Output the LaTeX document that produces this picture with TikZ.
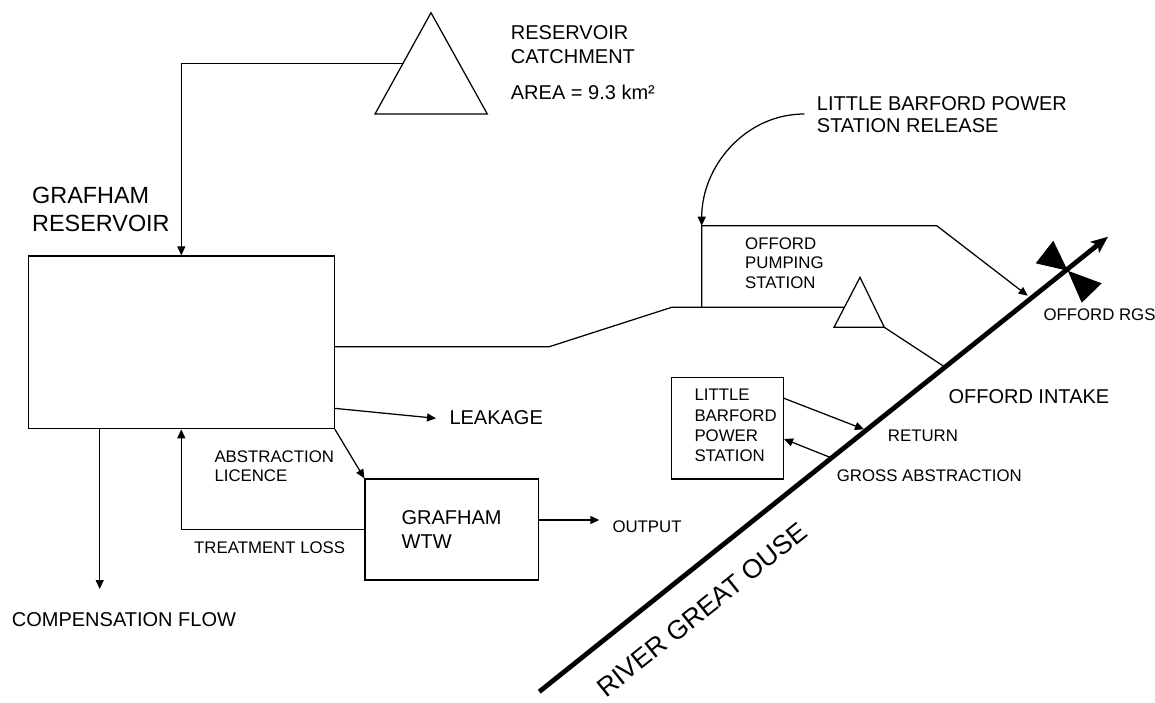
\documentclass[tikz,border=0pt]{standalone}
\usepackage{fontspec}
\setmainfont{Liberation Sans}
\usetikzlibrary{arrows.meta,calc}
\begin{document}
\begin{tikzpicture}[x=1pt,y=-1pt,
  flow/.style={line width=1.25pt},
  arr/.style={flow,-{Triangle[length=9pt,width=8pt]}},
  box/.style={draw,line width=1.25pt,inner sep=0pt},
  bigtxt/.style={font=\fontsize{20}{24}\selectfont,inner sep=0pt,align=left,anchor=west},
  smalltxt/.style={font=\fontsize{16.8}{20}\selectfont,inner sep=0pt,align=left,anchor=west},
  river/.style={line width=4.8pt,-{Stealth[length=17pt,width=14pt,inset=4pt]}}
]
\useasboundingbox (0,0) rectangle (1155,702);

% reservoir and works
\node[box,minimum width=306pt,minimum height=172.7pt] (res) at (181.3,342.35) {};
\node[box,minimum width=173.3pt,minimum height=101pt,align=left,
      font=\fontsize{20}{24}\selectfont] (wtw) at (451.65,529.5) {GRAFHAM\\WTW};
\node[box,minimum width=111.6pt,minimum height=101.7pt] (lbps) at (727.5,428.15) {};

% catchment triangle
\coordinate (cA) at (431,12.7);
\coordinate (cB) at (375,114);
\coordinate (cC) at (487.3,114);
\draw[flow] (cA) -- (cB) -- (cC) -- cycle;
\coordinate (catchL) at ($(cA)!0.5!(cB)$);

% pumping station triangle
\coordinate (pA) at (860,277.3);
\coordinate (pB) at (834,327.3);
\coordinate (pC) at (884.3,327.3);
\draw[flow] (pA) -- (pB) -- (pC) -- cycle;
\coordinate (pumpL) at ($(pA)!0.6!(pB)$);

% river
\coordinate (rS) at (539.3,691.7);
\coordinate (rE) at (1108,236.7);
\draw[river] (rS) -- (rE);

% gauging station symbol
\coordinate (rgs) at (1067.7,270.7);
\fill (rgs) -- (1035.7,263.3) -- (1053.3,240.7) -- cycle;
\fill (rgs) -- (1101.7,283.3) -- (1081.7,302.7) -- cycle;

% coordinates for free ends and bends
\coordinate (k1) at (549.3,346.7);
\coordinate (k2) at (671.7,307.3);
\coordinate (relTop) at (701.7,225.7);
\coordinate (relBot) at (701.7,307.3);
\coordinate (k3) at (936.7,225.7);
\coordinate (rgsIn) at (1027.7,295.7);
\coordinate (relStart) at (804.3,114);
\coordinate (intake) at (943.3,366);
\coordinate (leakEnd) at (436,418.3);
\coordinate (leakStart) at (334.3,408.3);
\coordinate (compEnd) at (99.7,589);
\coordinate (outEnd) at (599.3,520);
\coordinate (retStart) at (784,398.3);
\coordinate (retEnd) at (864,429.3);
\coordinate (grossStart) at (830,457.3);
\coordinate (grossEnd) at (784,439);

% connectors
\draw[arr] (catchL) -| (res.north);
\draw[flow] (res.east |- k1) -- (k1) -- (k2) -- (pumpL);
\draw[arr] (relBot) -- (relTop) -- (k3) -- (rgsIn);
\draw[arr] (relStart) to[out=180,in=90] (relTop);
\draw[flow] (pC) -- (intake);
\draw[arr] (leakStart) -- (leakEnd);
\draw[arr] (res.south east) -- (wtw.north west);
\draw[arr] (wtw.west) -| (res.south);
\draw[arr] (res.south -| compEnd) -- (compEnd);
\draw[arr] (wtw.east |- outEnd) -- (outEnd);
\draw[arr] (retStart) -- (retEnd);
\draw[arr] (grossStart) -- (grossEnd);

% labels
\node[bigtxt,font=\fontsize{23.4}{28}\selectfont] (lres) at (32,209.8) {GRAFHAM\\RESERVOIR};
\node[bigtxt] (lcatch) at (510.7,44.7) {RESERVOIR\\CATCHMENT};
\node[bigtxt] (larea) at (510.7,92.7) {AREA = 9.3 km²};
\node[bigtxt,font=\fontsize{20}{22.7}\selectfont] (lrel) at (816.7,114.7) {LITTLE BARFORD POWER\\STATION RELEASE};
\node[smalltxt,font=\fontsize{16.8}{19.7}\selectfont] (lpump) at (745,263) {OFFORD\\PUMPING\\STATION};
\node[smalltxt] (lrgs) at (1043.3,314.3) {OFFORD RGS};
\node[bigtxt] (lintake) at (948.3,396.7) {OFFORD INTAKE};
\node[smalltxt,font=\fontsize{16.8}{20.3}\selectfont] (llb) at (694.3,425.5) {LITTLE\\BARFORD\\POWER\\STATION};
\node[smalltxt] (lret) at (887.7,436) {RETURN};
\node[smalltxt] (lgross) at (836.7,476) {GROSS ABSTRACTION};
\node[bigtxt] (lleak) at (449.3,417.3) {LEAKAGE};
\node[smalltxt,font=\fontsize{16.8}{19.3}\selectfont] (labs) at (214.3,466.3) {ABSTRACTION\\LICENCE};
\node[smalltxt] (ltreat) at (194,547.3) {TREATMENT LOSS};
\node[smalltxt] (lout) at (612.3,526.7) {OUTPUT};
\node[bigtxt] (lcomp) at (11.7,620) {COMPENSATION FLOW};
\node[font=\fontsize{26.5}{30}\selectfont,inner sep=0pt,rotate=38.66] (lriver) at (702,610) {RIVER GREAT OUSE};
\end{tikzpicture}
\end{document}
